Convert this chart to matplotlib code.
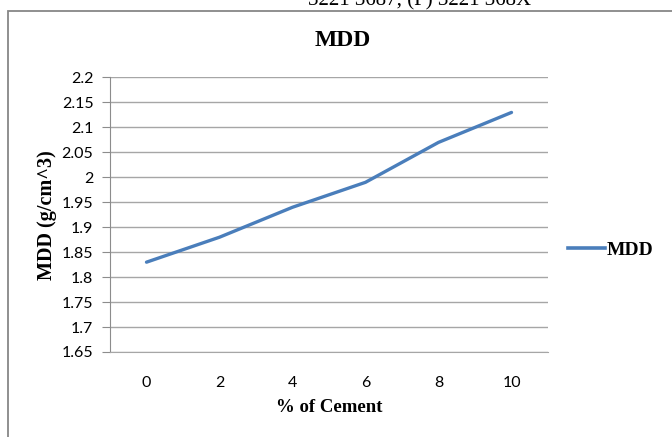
import matplotlib
matplotlib.use("Agg")
import matplotlib.pyplot as plt
from matplotlib.patches import Rectangle
from matplotlib.lines import Line2D

# MDD readings against cement content
cement = ["0", "2", "4", "6", "8", "10"]
mdd = [1.83, 1.88, 1.94, 1.99, 2.07, 2.13]
y_ticks = [1.65, 1.7, 1.75, 1.8, 1.85, 1.9, 1.95, 2.0, 2.05, 2.1, 2.15, 2.2]
y_labels = ["1.65", "1.7", "1.75", "1.8", "1.85", "1.9", "1.95", "2", "2.05", "2.1", "2.15", "2.2"]

W, H = 672, 437
fig = plt.figure(figsize=(W / 100, H / 100), dpi=100)
fig.patch.set_facecolor("white")

serif = "Liberation Serif"
sans = "Lato"
grey = "#A6A6A6"
blue = "#4A7EBB"

# page text just above the chart frame
fig.text(420 / W, 1 - 5 / H, "3221 3687, (F) 3221 368X", ha="center", va="baseline",
         family=serif, fontsize=15)

# chart frame running off the right and bottom edges
fig.add_artist(Rectangle((8 / W, -0.1), 1.2, 1 - 11 / H + 0.1, transform=fig.transFigure,
                         fill=False, edgecolor="#878787", linewidth=1.3))

ax = fig.add_axes([110 / W, 1 - 352 / H, 438 / W, (352 - 77.5) / H])
x = list(range(len(cement)))
ax.plot(x, mdd, color=blue, linewidth=2.4, solid_capstyle="round", label="MDD")

ax.set_xlim(-0.5, len(cement) - 0.5)
ax.set_ylim(1.65, 2.2)
ax.set_xticks(x)
ax.set_xticklabels(cement)
ax.set_yticks(y_ticks)
ax.set_yticklabels(y_labels)

ax.grid(axis="y", color=grey, linewidth=1.0)
ax.set_axisbelow(True)
for side in ["top", "right"]:
    ax.spines[side].set_visible(False)
ax.spines["left"].set_color("#8C8C8C")
ax.spines["bottom"].set_color(grey)
ax.tick_params(axis="y", direction="out", length=6, color="#8C8C8C", pad=6,
               labelsize=11.5)
ax.tick_params(axis="x", length=0, pad=17, labelsize=11.5)
for lab in ax.get_xticklabels() + ax.get_yticklabels():
    lab.set_family(sans)

fig.text(343 / W, 1 - 40 / H, "MDD", ha="center", va="center",
         family=serif, fontweight="bold", fontsize=17)
ax.set_xlabel("% of Cement", family=serif, fontweight="bold", fontsize=13.5, labelpad=7)
ax.set_ylabel("MDD (g/cm^3)", family=serif, fontweight="bold", fontsize=14.5, labelpad=3)

handle = Line2D([0], [0], color=blue, linewidth=2.6)
fig.legend([handle], ["MDD"], loc="center left", bbox_to_anchor=(568 / W, 1 - 250 / H),
           frameon=False, borderpad=0, borderaxespad=0, handlelength=1.9,
           handletextpad=0.08, prop={"family": serif, "weight": "bold", "size": 14})

fig.savefig("out.png", dpi=100, facecolor="white")
